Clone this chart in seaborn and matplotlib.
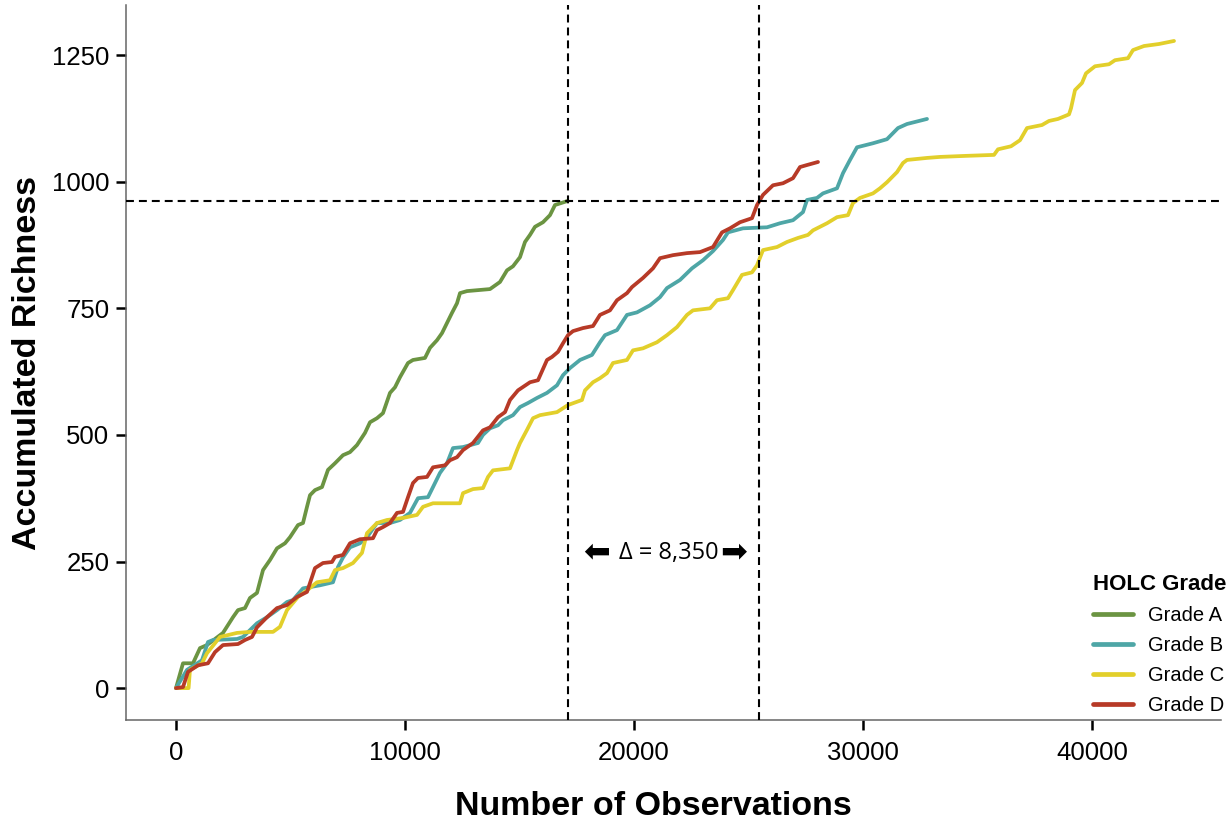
import matplotlib
matplotlib.use("Agg")
import matplotlib.pyplot as plt
import pandas as pd
import seaborn as sns

grades = ["Grade A", "Grade B", "Grade C", "Grade D"]
palette = ["#6B9442", "#4EA6A6", "#E2CF2B", "#B73A27"]

obs_a = [0, 306, 742, 1048, 1354, 2052, 2489, 2707, 3013, 3231, 3537, 3799, 4105, 4410, 4760,
         4978, 5328, 5546, 5721, 5852, 6070, 6376, 6638, 6943, 7293, 7598, 7904, 8253, 8472, 8777,
         9039, 9345, 9563, 9782, 10131, 10349, 10873, 11092, 11397, 11616, 11834, 12052, 12271, 12402, 12707,
         13712, 14148, 14454, 14716, 15022, 15240, 15459, 15677, 16026, 16332, 16550, 17100]
rich_a = [0, 49, 49, 79, 85, 109, 140, 154, 158, 178, 188, 233, 253, 276, 286,
          298, 322, 326, 358, 381, 391, 397, 431, 444, 460, 466, 480, 504, 525, 533,
          543, 583, 594, 614, 642, 648, 652, 672, 687, 701, 721, 741, 760, 780, 784,
          788, 802, 825, 833, 851, 881, 895, 911, 920, 934, 954, 962]

obs_b = [0, 480, 1135, 1397, 1616, 2664, 2926, 3537, 3974, 4410, 4847, 5109, 5546, 6288, 6856,
         7074, 7293, 7598, 8035, 8341, 8777, 9345, 9782, 10218, 10568, 11004, 11223, 11528, 11834, 12096,
         12533, 13188, 13406, 13712, 14061, 14279, 14716, 15022, 15371, 15764, 16201, 16638, 16900, 17205, 17642,
         18166, 18515, 18734, 19258, 19694, 20131, 20699, 21135, 21441, 22009, 22533, 23013, 23450, 23886, 24105,
         24760, 25808, 26376, 26943, 27380, 27555, 27991, 28253, 28865, 29127, 29432, 29738, 30437, 31048, 31528,
         31921, 32795]
rich_b = [0, 36, 55, 91, 95, 97, 101, 128, 140, 154, 170, 174, 197, 203, 209,
          239, 258, 278, 286, 298, 326, 326, 332, 346, 375, 377, 397, 425, 444, 474,
          476, 484, 500, 513, 519, 529, 539, 555, 563, 573, 583, 598, 618, 632, 648,
          658, 683, 697, 707, 737, 742, 756, 772, 790, 806, 829, 845, 863, 885, 900,
          908, 910, 918, 924, 940, 964, 968, 977, 987, 1017, 1043, 1068, 1076, 1084, 1106,
          1114, 1124]

obs_c = [0, 550, 611, 1135, 1354, 1921, 2664, 3231, 4236, 4541, 4847, 5328, 5721, 6157, 6725,
         6943, 7293, 7729, 8122, 8341, 8777, 9214, 9913, 10524, 10786, 11223, 12402, 12533, 12969, 13406,
         13624, 13843, 14585, 14891, 15022, 15328, 15590, 15895, 16638, 17118, 17729, 17860, 18210, 18515, 18821,
         19083, 19694, 19956, 20393, 21004, 21441, 21878, 22314, 22576, 23319, 23624, 24105, 24323, 24716, 25153,
         25371, 25633, 26245, 26681, 27162, 27598, 27817, 28428, 28865, 29345, 29563, 29869, 30437, 30742, 31048,
         31485, 31747, 31921, 32795, 33362, 34454, 35721, 35895, 36463, 36856, 37162, 37817, 38122, 38515, 38996,
         39083, 39258, 39563, 39738, 40131, 40742, 41004, 41572, 41790, 42271, 42926, 43581]
rich_c = [0, 0, 36, 49, 69, 101, 109, 111, 111, 121, 154, 180, 193, 209, 213,
          233, 237, 247, 267, 306, 326, 332, 336, 342, 358, 365, 365, 385, 393, 395,
          417, 430, 434, 470, 484, 510, 533, 539, 545, 559, 569, 588, 604, 612, 622,
          642, 648, 667, 671, 683, 697, 713, 737, 746, 750, 766, 770, 786, 816, 821,
          835, 865, 871, 881, 889, 895, 904, 918, 930, 934, 958, 968, 977, 987, 999,
          1019, 1037, 1043, 1047, 1049, 1051, 1053, 1064, 1070, 1082, 1106, 1112, 1120, 1124, 1133,
          1145, 1181, 1195, 1214, 1228, 1232, 1240, 1244, 1260, 1268, 1272, 1278]

obs_d = [0, 306, 524, 961, 1397, 1703, 2052, 2707, 3013, 3319, 3537, 3974, 4410, 4847, 5284,
         5721, 6070, 6419, 6812, 6943, 7293, 7598, 8035, 8603, 8777, 9039, 9345, 9651, 9913, 10131,
         10349, 10568, 10961, 11223, 11747, 11965, 12271, 12533, 12969, 13144, 13406, 13712, 14061, 14367, 14585,
         14934, 15459, 15808, 16201, 16419, 16681, 16900, 17118, 17336, 17773, 18210, 18515, 18952, 19258, 19694,
         19913, 20393, 20830, 21135, 21703, 22314, 22882, 23450, 23843, 24192, 24629, 25153, 25371, 25633, 26070,
         26507, 26943, 27249, 27555, 28035]
rich_d = [0, 2, 32, 45, 49, 71, 85, 87, 95, 101, 120, 140, 158, 164, 180,
          190, 237, 247, 249, 259, 263, 286, 294, 296, 312, 318, 326, 346, 348, 377,
          405, 415, 417, 436, 440, 450, 456, 470, 484, 494, 509, 515, 535, 545, 569,
          588, 604, 608, 648, 654, 664, 681, 697, 705, 711, 715, 737, 746, 766, 780,
          792, 810, 829, 849, 855, 859, 861, 871, 900, 908, 920, 928, 954, 974, 993,
          997, 1007, 1029, 1033, 1039]

ref_obs = [17100, 25450]
ref_rich = 962
delta_label = "\u0394 = 8,350"
x_ticks = [0, 10000, 20000, 30000, 40000]
y_ticks = [0, 250, 500, 750, 1000, 1250]

frames = []
for g, xs, ys in zip(grades, [obs_a, obs_b, obs_c, obs_d], [rich_a, rich_b, rich_c, rich_d]):
    frames.append(pd.DataFrame({"obs": xs, "rich": ys, "grade": g}))
df = pd.concat(frames, ignore_index=True)

sns.set_style("ticks")
plt.rcParams["font.family"] = ["Liberation Sans", "DejaVu Sans"]
plt.rcParams["text.color"] = "black"
plt.rcParams["axes.labelcolor"] = "black"

fig = plt.figure(figsize=(12.31, 8.22), dpi=100)
ax = fig.add_axes([126 / 1231, 1 - 720 / 822, (1221 - 126) / 1231, (720 - 5) / 822])

sns.lineplot(data=df, x="obs", y="rich", hue="grade", hue_order=grades,
             palette=palette, estimator=None, sort=False, linewidth=2.7, ax=ax)

dash = (0, (3.8, 2.4))
for xv in ref_obs:
    ax.axvline(xv, color="black", linewidth=1.5, linestyle=dash, zorder=5)
ax.axhline(ref_rich, color="black", linewidth=1.5, linestyle=dash, zorder=5)

mid = (ref_obs[0] + ref_obs[1]) / 2
ax.annotate(delta_label, xy=(mid, 267), xytext=(4, 0), textcoords="offset points",
            ha="center", va="center", fontsize=17, family=["Open Sans", "DejaVu Sans"])
ax.annotate("\u2b05", xy=(mid, 267), xytext=(-48, 0), textcoords="offset points",
            ha="center", va="center", fontsize=23, family=["DejaVu Sans"])
ax.annotate("\u27a1", xy=(mid, 267), xytext=(51, 0), textcoords="offset points",
            ha="center", va="center", fontsize=23, family=["DejaVu Sans"])

ax.set_xlim(-2183, 45633)
ax.set_ylim(-63, 1349)
ax.set_xticks(x_ticks)
ax.set_yticks(y_ticks)
ax.tick_params(axis="both", which="major", labelsize=18.5, length=7, width=1.8,
               color="black", labelcolor="black", direction="out", pad=5,
               bottom=True, left=True)
ax.tick_params(axis="x", pad=8)
for s in ["top", "right"]:
    ax.spines[s].set_visible(False)
for s in ["left", "bottom"]:
    ax.spines[s].set_color("#666666")
    ax.spines[s].set_linewidth(1.1)

ax.set_xlabel("Number of Observations", fontsize=24.5, fontweight="bold", labelpad=19)
ax.xaxis.label.set_x((653 - 126) / (1221 - 126))
ax.set_ylabel("Accumulated Richness", fontsize=24.5, fontweight="bold", labelpad=6)

handles, labels = ax.get_legend_handles_labels()
leg = ax.legend(handles, labels, title="HOLC Grade", loc="upper left",
                bbox_to_anchor=(1093 / 1231, 1 - 574 / 822), bbox_transform=fig.transFigure,
                frameon=False, fontsize=14.5, title_fontproperties={"weight": "bold", "size": 16},
                handlelength=2.0, handletextpad=0.75, labelspacing=0.55, borderpad=0,
                borderaxespad=0, alignment="left")
for h in leg.get_lines():
    h.set_linewidth(3.4)

fig.savefig("out.png", dpi=100)
